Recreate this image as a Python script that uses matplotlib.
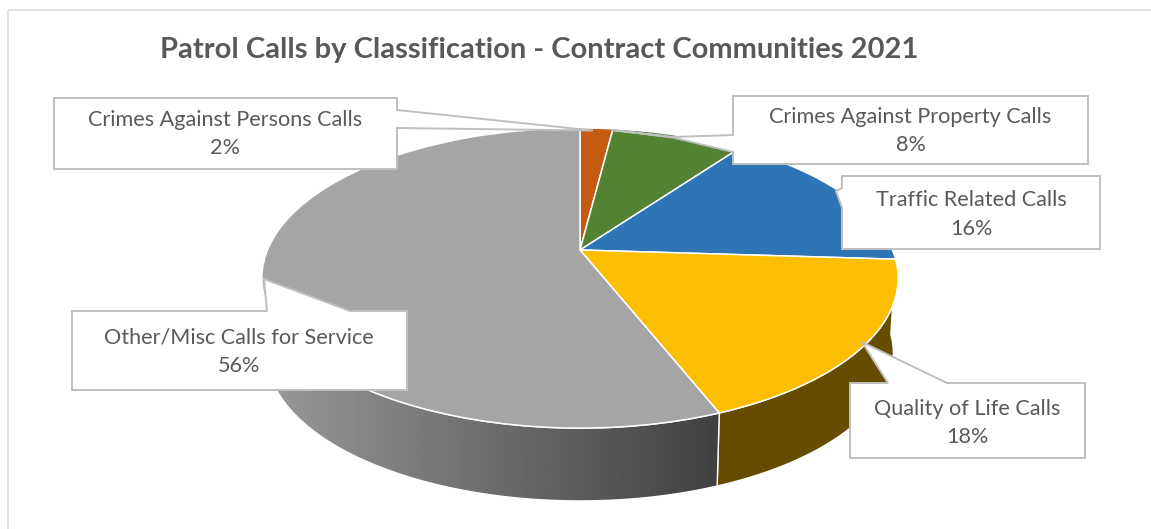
import numpy as np
import matplotlib
matplotlib.use("Agg")
import matplotlib.pyplot as plt
import matplotlib.transforms as mtransforms
from matplotlib.patches import Polygon, Rectangle

# --- data ---
categories = ["Crimes Against Persons Calls", "Crimes Against Property Calls",
              "Traffic Related Calls", "Quality of Life Calls",
              "Other/Misc Calls for Service"]
values = [2, 8, 16, 18, 56]
colors = ["#C55A11", "#548235", "#2E75B6", "#FBBE00", "#A5A5A5"]
title = "Patrol Calls by Classification - Contract Communities 2021"

# --- layout (pixels) ---
CX, CY = 580.0, 250.0
A, B, K = 144.8, 312.5, 0.187
DEPTH, SCALE = 75.5, 0.985
TEXT = "#595959"
LINE = "#BFBFBF"

callouts = [
    [(54, 98), (397, 98), (397, 110), (593, 130.5), (397, 128), (397, 169), (54, 169)],
    [(733, 96), (1088, 96), (1088, 164), (733, 164), (733, 152), (673, 137.5), (612, 130),
     (673, 137), (733, 135)],
    [(842, 176), (1100, 176), (1100, 249), (842, 249), (842, 208), (836, 191), (842, 188)],
    [(850, 383), (888, 383), (862, 342), (947, 383), (1085, 383), (1085, 458), (850, 458)],
    [(72, 311), (267, 311), (264, 279), (350, 311), (407, 311), (407, 390), (72, 390)],
]
label_xy = [(225, 134), (910.5, 131), (971, 214.5), (967, 423), (239, 352)]


class Perspective(mtransforms.Transform):
    input_dims = output_dims = 2
    is_separable = False
    has_inverse = False

    def __init__(self, dy=0.0, s=1.0):
        super().__init__()
        self.dy, self.s = dy, s

    def transform_non_affine(self, xy):
        xy = np.asarray(xy, float)
        u, v = xy[:, 0], xy[:, 1]
        w = 1 + K * v
        return np.column_stack([CX + self.s * B * u / w,
                                CY + self.dy - self.s * A * v / w])


top = Perspective()
bottom = Perspective(DEPTH, SCALE)

plt.rcParams["font.family"] = ["Lato", "DejaVu Sans"]
fig = plt.figure(figsize=(11.51, 5.29), dpi=100, facecolor="white")
ax = fig.add_axes([0, 0, 1, 1])

wedges, _ = ax.pie(values, colors=colors, startangle=90, counterclock=False,
                   wedgeprops=dict(edgecolor="white", linewidth=1.1, zorder=4))
for w in wedges:
    w.set_transform(top + ax.transData)

# side walls, built from the same slice fractions
fracs = np.cumsum([0] + values) / np.sum(values)


def rim(tr, f0, f1):
    t = 2 * np.pi * np.linspace(f0, f1, 200)
    return tr.transform_non_affine(np.column_stack([np.sin(t), np.cos(t)]))


def wall(i):
    return np.vstack([rim(top, fracs[i], fracs[i + 1]),
                      rim(bottom, fracs[i], fracs[i + 1])[::-1]])


ax.add_patch(Polygon(wall(3), closed=True, facecolor="#664C00",
                     edgecolor="white", linewidth=1, zorder=2))
gray_clip = Polygon(wall(4), closed=True, facecolor="none",
                    edgecolor="white", linewidth=1, zorder=3)
ax.add_patch(gray_clip)
grad = np.linspace(0.60, 0.25, 256)[None, :]
img = ax.imshow(grad, cmap="gray", vmin=0, vmax=1, extent=(263, 723, 520, 120),
                aspect="auto", zorder=2.5)
img.set_clip_path(gray_clip)

# frame
ax.add_patch(Rectangle((8, 10), 1300, 700, facecolor="none",
                       edgecolor="#D9D9D9", linewidth=1.1, zorder=1))

ax.set_aspect("auto")
ax.set_xlim(0, 1151)
ax.set_ylim(529, 0)
ax.axis("off")

ax.text(539, 50, title, ha="center", va="center", fontsize=21,
        fontweight="bold", color=TEXT, zorder=6)

for name, val, shape, (lx, ly) in zip(categories, values, callouts, label_xy):
    ax.add_patch(Polygon(shape, closed=True, facecolor="white", edgecolor=LINE,
                         linewidth=1.4, joinstyle="miter", zorder=5))
    ax.text(lx, ly, f"{name}\n{val}%", ha="center", va="center", fontsize=15.6,
            color=TEXT, linespacing=1.55, zorder=6)

fig.savefig("out.png", dpi=100)
